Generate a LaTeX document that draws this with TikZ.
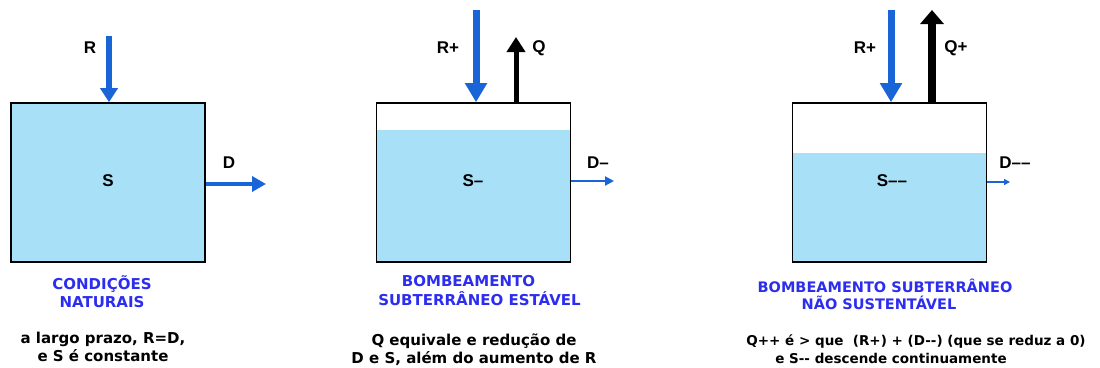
\documentclass[tikz,border=0pt]{standalone}
\usepackage{fontspec}
\setmainfont{DejaVu Sans}
\newfontfamily\lblfont{Liberation Sans}
\usetikzlibrary{arrows.meta,backgrounds}
\definecolor{water}{RGB}{168,224,248}
\definecolor{flowblue}{RGB}{25,100,215}
\definecolor{titleblue}{RGB}{45,45,240}
\begin{document}
\begin{tikzpicture}[x=1pt,y=-1pt,
  box/.style={draw=black,line width=1.6pt,minimum width=194pt,minimum height=159pt,inner sep=0pt},
  lbl/.style={font=\lblfont\bfseries\fontsize{17}{20}\selectfont,inner sep=0pt},
  ttl/.style={text=titleblue,font=\bfseries\fontsize{15}{18}\selectfont,align=center,inner sep=0pt},
  note/.style={font=\bfseries\fontsize{15}{18}\selectfont,align=center,inner sep=0pt},
  inflowA/.style={draw=flowblue,line width=6pt,-{Triangle[width=17pt,length=14pt]}},
  inflowB/.style={draw=flowblue,line width=7pt,-{Triangle[width=21pt,length=19pt]}},
  qflowA/.style={draw=black,line width=5pt,-{Triangle[width=18pt,length=15pt]}},
  qflowB/.style={draw=black,line width=8pt,-{Triangle[width=23pt,length=14pt]}},
  dflowA/.style={draw=flowblue,line width=4pt,-{Triangle[width=15pt,length=14pt]}},
  dflowB/.style={draw=flowblue,line width=2pt,-{Triangle[width=9pt,length=9pt]}},
  dflowC/.style={draw=flowblue,line width=1.3pt,-{Triangle[width=6pt,length=6pt]}}
]
\useasboundingbox (0,0) rectangle (1100,367);

% boxes
\node[box,fill=water] (box1) at (108,182.5) {};
\node[box] (box2) at (473.5,182.5) {};
\node[box] (box3) at (889.5,182.5) {};
\coordinate (w2) at (0,130);
\coordinate (w3) at (0,153);
\begin{scope}[on background layer]
  \fill[white] (0,0) rectangle (1100,367);
  \fill[water] (box2.south west) rectangle (box2.east |- w2);
  \fill[water] (box3.south west) rectangle (box3.east |- w3);
\end{scope}

% storage labels
\node[lbl] (s1) at (108,181) {S};
\node[lbl] (s2) at (473,181) {S–};
\node[lbl] (s3) at (892,181) {S––};

% panel 1 flows
\coordinate (r1) at (109,36);
\draw[inflowA] (r1) -- (r1 |- box1.north);
\node[lbl] (lr1) at (90,48) {R};
\coordinate (d1) at (266,184);
\draw[dflowA] (box1.east |- d1) -- (d1);
\node[lbl] (ld1) at (229,163) {D};

% panel 2 flows
\coordinate (r2) at (476,10);
\draw[inflowB] (r2) -- (r2 |- box2.north);
\node[lbl] (lr2) at (448,48) {R+};
\coordinate (q2) at (516,37);
\draw[qflowA] (q2 |- box2.north) -- (q2);
\node[lbl] (lq2) at (539,48) {Q};
\coordinate (d2) at (614,181);
\draw[dflowB] (box2.east |- d2) -- (d2);
\node[lbl] (ld2) at (598,163) {D–};

% panel 3 flows
\coordinate (r3) at (891,10);
\draw[inflowB] (r3) -- (r3 |- box3.north);
\node[lbl] (lr3) at (865,48) {R+};
\coordinate (q3) at (932,10);
\draw[qflowB] (q3 |- box3.north) -- (q3);
\node[lbl] (lq3) at (956,48) {Q+};
\coordinate (d3) at (1010,182);
\draw[dflowC] (box3.east |- d3) -- (d3);
\node[lbl] (ld3) at (1015,163) {D––};

% captions
\node[ttl] (t1) at (102,292) {CONDIÇÕES\\NATURAIS};
\node[note] (n1) at (103,347) {a largo prazo, R=D,\\e S é constante};

\node[ttl] (t2a) at (468.5,281) {BOMBEAMENTO};
\node[ttl] (t2b) at (479.5,299) {SUBTERRÂNEO ESTÁVEL};
\node[note] (n2) at (474,350) {Q equivale e redução de\\D e S, além do aumento de R};

\node[ttl,font=\bfseries\fontsize{14.5}{18}\selectfont] (t3a) at (885,286) {BOMBEAMENTO SUBTERRÂNEO};
\node[ttl,font=\bfseries\fontsize{14.5}{18}\selectfont] (t3b) at (879,303) {NÃO SUSTENTÁVEL};
\node[note,font=\bfseries\fontsize{13.5}{18}\selectfont] (n3a) at (916,341) {Q++ é > que\ \ (R+) + (D-{}-) (que se reduz a 0)};
\node[note,font=\bfseries\fontsize{13.5}{18}\selectfont] (n3b) at (891,358) {e S-{}- descende continuamente};
\end{tikzpicture}
\end{document}
